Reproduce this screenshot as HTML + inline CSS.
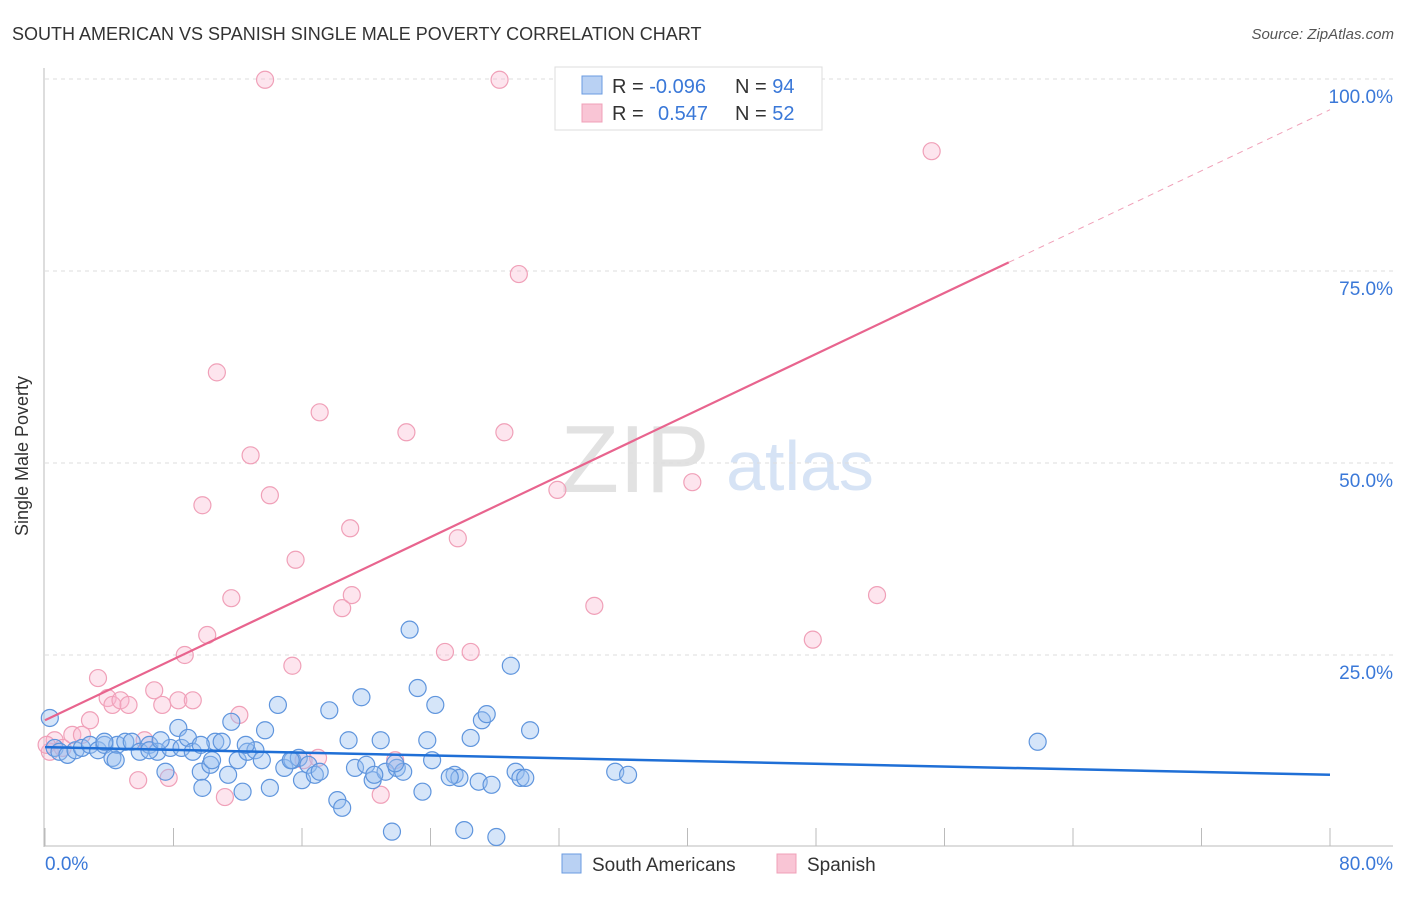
<!DOCTYPE html>
<html><head><meta charset="utf-8"><style>
body{margin:0;background:#fff;font-family:"Liberation Sans",sans-serif}
svg text{font-family:"Liberation Sans",sans-serif}
</style></head><body>
<svg width="1406" height="892" viewBox="0 0 1406 892">
<text x="12" y="40" font-size="18" fill="#333">SOUTH AMERICAN VS SPANISH SINGLE MALE POVERTY CORRELATION CHART</text>
<text x="1394" y="39" font-size="15" fill="#555" text-anchor="end" font-style="italic">Source: ZipAtlas.com</text>
<g>
<text x="635" y="492" font-size="96" fill="#e2e2e2" text-anchor="middle" font-family="Liberation Serif">ZIP</text>
<text x="800" y="490" font-size="70" fill="#d6e3f5" text-anchor="middle">atlas</text>
</g>
<g id="grid"></g><g id="axes"></g><g id="pts"></g><g id="lines"></g>
<text x="28" y="456" font-size="18" fill="#333" text-anchor="middle" transform="rotate(-90 28 456)">Single Male Poverty</text>
<g>
<rect x="555" y="67" width="267" height="63" fill="#fff" stroke="#ddd"/>
<rect x="582" y="76" width="20" height="18" fill="#b9d1f3" stroke="#6a9be0"/>
<rect x="582" y="104" width="20" height="18" fill="#f9c5d5" stroke="#f0a0b8"/>
<text x="612" y="93" font-size="20" fill="#333">R = <tspan fill="#3a78d8">-0.096</tspan></text>
<text x="735" y="93" font-size="20" fill="#333">N = <tspan fill="#3a78d8">94</tspan></text>
<text x="612" y="120" font-size="20" fill="#333">R = <tspan fill="#3a78d8" x="658">0.547</tspan></text>
<text x="735" y="120" font-size="20" fill="#333">N = <tspan fill="#3a78d8">52</tspan></text>
</g>
<g>
<rect x="562" y="854" width="19" height="19" fill="#b9d1f3" stroke="#6a9be0"/>
<text x="592" y="871" font-size="19" fill="#333">South Americans</text>
<rect x="777" y="854" width="19" height="19" fill="#f9c5d5" stroke="#f0a0b8"/>
<text x="807" y="871" font-size="19" fill="#333">Spanish</text>
</g>
</svg>
<script>
const yTicks=[25,50,75,100];
const yTickLabels=["25.0%","50.0%","75.0%","100.0%"];
const xTicks=[0,8,16,24,32,40,48,56,64,72,80];
const blueX=[0.3,0.6,0.9,1.4,1.9,2.3,2.8,3.3,3.7,4.2,4.5,5.0,5.4,5.9,6.5,7.0,7.5,7.8,8.3,8.5,8.9,9.2,9.7,9.8,10.3,10.6,11.0,11.4,11.6,12.0,12.3,12.6,13.1,13.7,13.5,14.0,14.5,14.9,15.4,15.8,16.0,16.4,16.8,17.1,17.7,18.2,18.5,18.9,19.3,19.7,20.0,20.4,20.9,21.2,21.6,21.9,22.3,22.7,23.2,23.5,23.8,24.3,24.1,25.5,25.8,26.1,26.5,27.0,27.2,27.5,27.8,29.0,29.3,29.6,29.9,30.2,28.1,35.5,36.3,61.8,3.7,4.4,6.5,7.2,9.7,10.4,12.5,15.3,21.8,25.2,20.5];
const blueY=[16.8,12.9,12.4,12.0,12.6,12.9,13.3,12.6,13.3,11.6,13.3,13.7,13.7,12.4,13.3,12.4,9.8,12.9,15.5,12.9,14.2,12.4,9.8,7.7,10.7,13.7,13.7,9.4,16.3,11.3,7.2,12.4,12.6,15.2,11.3,7.7,18.5,10.3,11.3,11.6,8.7,10.7,9.4,9.8,17.8,6.1,5.1,13.9,10.3,19.5,10.7,8.7,13.9,9.8,2.0,10.3,9.8,28.3,20.7,7.2,13.9,18.5,11.3,9.4,9.0,2.2,14.2,8.5,16.5,17.3,8.1,23.6,9.8,9.0,9.0,15.2,1.3,9.8,9.4,13.7,13.7,11.3,12.6,13.9,13.3,11.3,13.3,11.3,10.9,9.1,9.4];
const pinkX=[0.3,0.6,1.1,1.7,2.3,2.8,3.3,3.9,4.2,4.7,5.2,5.8,6.2,6.8,7.3,7.7,8.3,8.7,9.2,9.8,10.1,10.7,11.2,11.6,12.1,12.8,13.7,14.0,15.4,15.6,16.1,17.0,17.1,18.5,19.0,19.1,20.9,21.8,22.5,24.9,25.7,26.5,28.3,28.6,29.5,31.9,34.2,40.3,41.9,47.8,51.8,55.2,0.1];
const pinkY=[12.4,13.9,12.9,14.6,14.6,16.5,22.0,19.4,18.5,19.1,18.5,8.7,13.9,20.4,18.5,9.0,19.1,25.0,19.1,44.5,27.6,61.8,6.5,32.4,17.2,51.0,99.9,45.8,23.6,37.4,11.3,11.6,56.6,31.1,41.5,32.8,6.8,11.3,54.0,25.4,40.2,25.4,99.9,54.0,74.6,46.5,31.4,47.5,100.1,27.0,32.8,90.6,13.3];
const blueLine=[13.0,9.4];
const pinkLine=[16.5,96.0];
const NS="http://www.w3.org/2000/svg";
const X=v=>45+v/80*1285, Y=v=>847-v/100*768;
function mk(t,a,p){const e=document.createElementNS(NS,t);for(const k in a)e.setAttribute(k,a[k]);document.getElementById(p).appendChild(e);return e;}
yTicks.forEach((t,i)=>{
 const l=mk('line',{x1:45,x2:1393,y1:Y(t),y2:Y(t),stroke:'#ddd','stroke-dasharray':'4,4'},'grid');
 
 
 const tx=mk('text',{x:1393,y:Y(t)+24,'font-size':19,fill:'#3a78d8','text-anchor':'end'},'grid');
 tx.textContent=yTickLabels[i];
 
 
});
const ax=mk('line',{x1:44,x2:44,y1:68,y2:847,stroke:'#bbb'},'axes');


const bx=mk('line',{x1:44,x2:1393,y1:846,y2:846,stroke:'#bbb'},'axes');


xTicks.forEach(t=>{const l=mk('line',{x1:X(t),x2:X(t),y1:828,y2:846,stroke:'#bbb'},'axes');
 
 });
const xl0=mk('text',{x:45,y:870,'font-size':19,fill:'#3a78d8'},'axes');xl0.textContent='0.0%';


const xl1=mk('text',{x:1393,y:870,'font-size':19,fill:'#3a78d8','text-anchor':'end'},'axes');xl1.textContent='80.0%';


pinkX.forEach((v,i)=>{const c=mk('circle',{cx:X(v),cy:Y(pinkY[i]),r:8.5,fill:'rgba(248,180,205,0.35)',stroke:'#f0a0b8','stroke-width':1.2},'pts');
 
 });
blueX.forEach((v,i)=>{const c=mk('circle',{cx:X(v),cy:Y(blueY[i]),r:8.5,fill:'rgba(150,190,240,0.4)',stroke:'#5f95dd','stroke-width':1.2},'pts');
 
 });
const bl=mk('line',{x1:X(0),y1:Y(blueLine[0]),x2:X(80),y2:Y(blueLine[1]),stroke:'#1f6fd6','stroke-width':2.5},'lines');


const pAt=x=>pinkLine[0]+(pinkLine[1]-pinkLine[0])*x/80;
const pl=mk('line',{x1:X(0),y1:Y(pAt(0)),x2:X(60),y2:Y(pAt(60)),stroke:'#e8648e','stroke-width':2.2},'lines');


const pd=mk('line',{x1:X(60),y1:Y(pAt(60)),x2:X(80),y2:Y(pAt(80)),stroke:'#f0a0b8','stroke-width':1,'stroke-dasharray':'6,5'},'lines');


</script>
</body></html>
